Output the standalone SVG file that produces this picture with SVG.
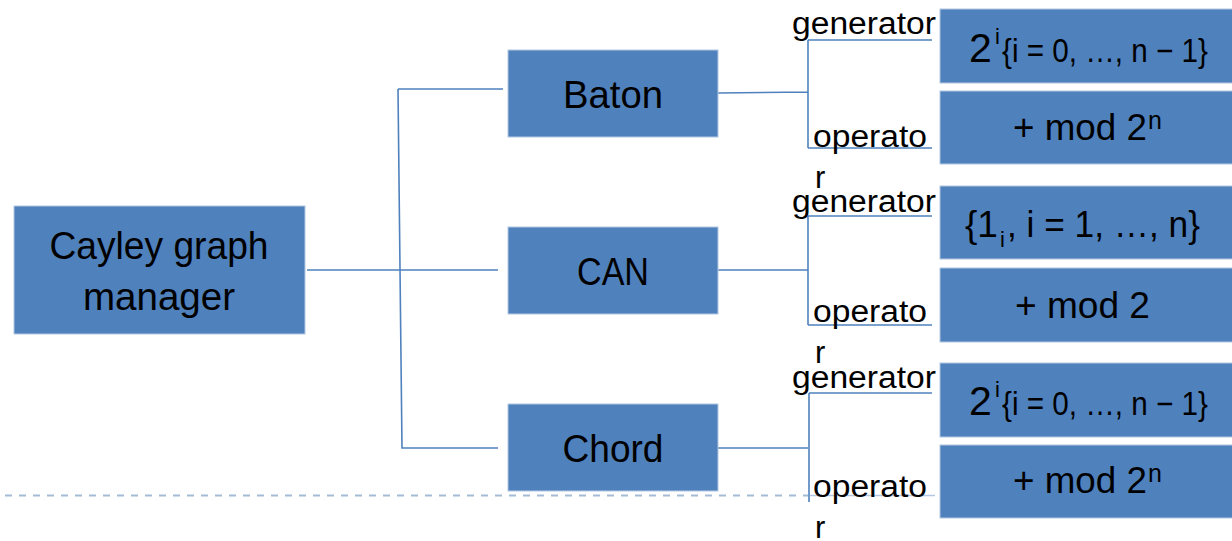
<svg xmlns="http://www.w3.org/2000/svg" width="1232" height="541" viewBox="0 0 1232 541">
<style>
.box{fill:#4F81BD;stroke:#B4C8E2;stroke-width:1}
.bt{font-family:"Liberation Sans",Arial,sans-serif;fill:#000}
.lab{font-family:"Liberation Sans",Arial,sans-serif;font-size:31px;fill:#000}
.con{fill:none;stroke:#4F81BD;stroke-width:1.6}
</style>
<rect width="1232" height="541" fill="#fff"/>
<line x1="5" y1="495.5" x2="808" y2="495.5" stroke="#A6BCD6" stroke-width="2.2" stroke-dasharray="7,7"/>
<line x1="810" y1="495.5" x2="935" y2="495.5" stroke="#B4C8E2" stroke-width="1.6"/>
<g id="connectors">
<path class="con" d="M307,270 L498,270 M398,89 L503,89 M398,89 L402,448 L498,448"/>
<path class="con" d="M718,93 L808,92 M808,40 L808,148 M808,40 L932,40 M808,148 L932,148"/>
<path class="con" d="M718,270 L808,270 M808,216 L808,325 M808,216 L932,216 M808,325 L932,325"/>
<path class="con" d="M718,448 L808,448 M809,393 L809,502 M809,393 L932,393"/>
</g>
<g id="cayley">
<rect class="box" x="14" y="206" width="291" height="128"/>
<text class="bt" font-size="38" text-anchor="middle" x="159" y="259" textLength="219" lengthAdjust="spacingAndGlyphs">Cayley graph</text>
<text class="bt" font-size="38" text-anchor="middle" x="159" y="310" textLength="152" lengthAdjust="spacingAndGlyphs">manager</text>
</g>
<g id="baton">
<rect class="box" x="508" y="50" width="210" height="87"/>
<text class="bt" font-size="38" text-anchor="middle" x="613" y="108" textLength="100" lengthAdjust="spacingAndGlyphs">Baton</text>
</g>
<g id="can">
<rect class="box" x="508" y="227" width="210" height="87"/>
<text class="bt" font-size="38" text-anchor="middle" x="613" y="285" textLength="72" lengthAdjust="spacingAndGlyphs">CAN</text>
</g>
<g id="chord">
<rect class="box" x="508" y="404" width="210" height="87"/>
<text class="bt" font-size="38" text-anchor="middle" x="613" y="462" textLength="101" lengthAdjust="spacingAndGlyphs">Chord</text>
</g>
<g id="labels">
<text class="lab" x="792" y="34" textLength="144" lengthAdjust="spacingAndGlyphs">generator</text>
<text class="lab" x="813" y="147" textLength="114" lengthAdjust="spacingAndGlyphs">operato</text>
<text class="lab" x="815" y="188">r</text>
<text class="lab" x="792" y="212" textLength="144" lengthAdjust="spacingAndGlyphs">generator</text>
<text class="lab" x="813" y="322" textLength="114" lengthAdjust="spacingAndGlyphs">operato</text>
<text class="lab" x="815" y="363">r</text>
<text class="lab" x="792" y="388" textLength="144" lengthAdjust="spacingAndGlyphs">generator</text>
<text class="lab" x="813" y="497" textLength="114" lengthAdjust="spacingAndGlyphs">operato</text>
<text class="lab" x="815" y="538">r</text>
</g>
<g id="baton-gen">
<rect class="box" x="940" y="9" width="300" height="74"/>
<text class="bt"><tspan x="969" y="62" font-size="41">2</tspan><tspan x="995" y="44" font-size="22">i</tspan><tspan x="1002" y="62" font-size="33" textLength="206" lengthAdjust="spacingAndGlyphs">{i = 0, …, n − 1}</tspan></text>
</g>
<g id="baton-op">
<rect class="box" x="940" y="91" width="300" height="73"/>
<text class="bt"><tspan x="1013" y="140" font-size="37" textLength="134" lengthAdjust="spacingAndGlyphs">+ mod 2</tspan><tspan x="1148" y="129" font-size="25">n</tspan></text>
</g>
<g id="can-gen">
<rect class="box" x="940" y="186" width="300" height="73"/>
<text class="bt"><tspan x="965" y="237" font-size="37">{1</tspan><tspan x="1000" y="247" font-size="22">i</tspan><tspan x="1007" y="237" font-size="37" textLength="193" lengthAdjust="spacingAndGlyphs">, i = 1, …, n}</tspan></text>
</g>
<g id="can-op">
<rect class="box" x="940" y="268" width="300" height="74"/>
<text class="bt" x="1015" y="318" font-size="37" textLength="135" lengthAdjust="spacingAndGlyphs">+ mod 2</text>
</g>
<g id="chord-gen">
<rect class="box" x="940" y="363" width="300" height="74"/>
<text class="bt"><tspan x="969" y="415" font-size="41">2</tspan><tspan x="995" y="397" font-size="22">i</tspan><tspan x="1002" y="415" font-size="33" textLength="206" lengthAdjust="spacingAndGlyphs">{i = 0, …, n − 1}</tspan></text>
</g>
<g id="chord-op">
<rect class="box" x="940" y="445" width="300" height="73"/>
<text class="bt"><tspan x="1013" y="493" font-size="37" textLength="134" lengthAdjust="spacingAndGlyphs">+ mod 2</tspan><tspan x="1148" y="482" font-size="25">n</tspan></text>
</g>
</svg>
